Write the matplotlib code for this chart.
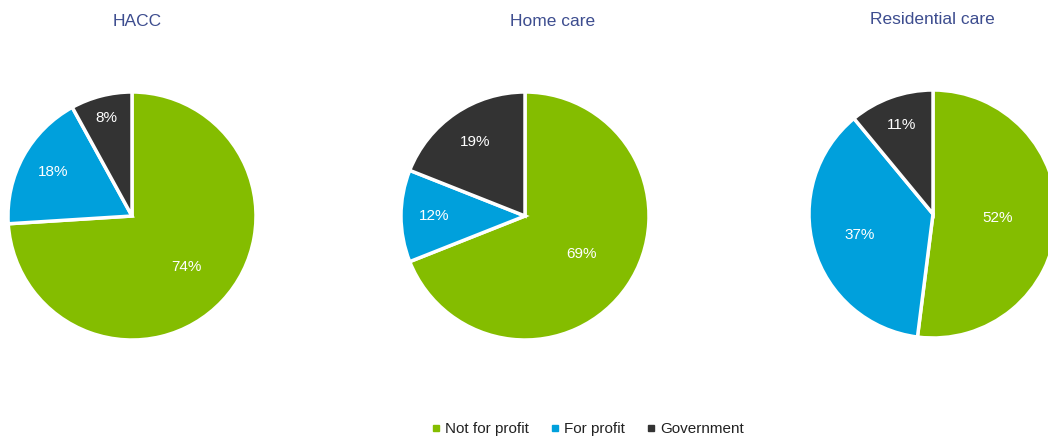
import numpy as np
import matplotlib.pyplot as plt
from matplotlib.lines import Line2D

plt.rcParams['font.family'] = ['Liberation Sans', 'DejaVu Sans']

titles = ['HACC', 'Home care', 'Residential care']
sectors = ['Not for profit', 'For profit', 'Government']
shares = [
    [74, 18, 8],
    [69, 12, 19],
    [52, 37, 11],
]
colors = ['#84bd00', '#00a0dc', '#333333']
title_color = '#3d4d8f'

W, H = 1048, 438
fig = plt.figure(figsize=(W / 100, H / 100), dpi=100)

# pie centres and title positions in pixels (x from left, y from top)
centres = [(132, 216), (525, 216), (933, 214)]
title_pos = [(137, 22), (553, 22), (932, 20)]
radius = 124
# label distance from centre, fraction of radius, per slice
label_dist = [[0.6, 0.73, 0.82], [0.55, 0.73, 0.72], [0.52, 0.62, 0.76]]

for title, vals, (cx, cy), (tx, ty), dists in zip(titles, shares, centres, title_pos, label_dist):
    ax = fig.add_axes([(cx - radius) / W, (H - cy - radius) / H, 2 * radius / W, 2 * radius / H])
    wedges, texts, autotexts = ax.pie(vals, colors=colors, startangle=90, counterclock=False,
                                      autopct='%d%%',
                                      wedgeprops=dict(edgecolor='white', linewidth=2.5),
                                      textprops=dict(color='white', fontsize=11))
    for w, t, d in zip(wedges, autotexts, dists):
        ang = np.deg2rad((w.theta1 + w.theta2) / 2)
        t.set_position((d * np.cos(ang), d * np.sin(ang)))
    ax.set_xlim(-1, 1)
    ax.set_ylim(-1, 1)
    ax.set_aspect('equal')
    ax.axis('off')
    fig.text(tx / W, 1 - ty / H, title, ha='center', va='center', fontsize=12.5, color=title_color)

handles = [Line2D([], [], marker='s', linestyle='', color=c, markersize=4) for c in colors]
fig.legend(handles, sectors, loc='center', bbox_to_anchor=(586 / W, 1 - 429 / H), ncol=3,
           frameon=False, fontsize=11, handletextpad=0.1, columnspacing=1.2, handlelength=1.0,
           labelcolor='#222222')

fig.savefig('out.png', dpi=100)
